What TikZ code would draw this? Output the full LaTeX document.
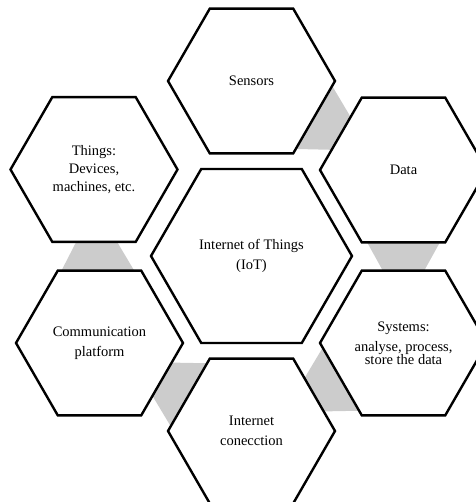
\documentclass[tikz,border=0pt]{standalone}
\usepackage{fontspec}
\setmainfont{Liberation Serif}
\usetikzlibrary{shapes.geometric, calc, backgrounds}

% grey band from one hexagon to the next, wide end at the first one
\newcommand{\hexlink}[2]{%
  \fill[linkgray] ($(#1.center)!55pt!(#2.center)!46pt!90:(#2.center)$)
    -- ($(#1.center)!120pt!(#2.center)!10pt!90:(#2.center)$)
    -- ($(#1.center)!120pt!(#2.center)!10pt!-90:(#2.center)$)
    -- ($(#1.center)!55pt!(#2.center)!46pt!-90:(#2.center)$) -- cycle;}

\begin{document}
\begin{tikzpicture}[x=1pt, y=-1pt,
  hexa/.style={regular polygon, regular polygon sides=6, draw, line width=2.4pt,
    fill=white, inner sep=0pt, minimum size=167pt, align=center,
    font=\fontsize{14.5}{20}\selectfont},
  linkgray/.style={fill=black!20}]
\useasboundingbox (0,0) rectangle (475,502);

% centre
\node[hexa, minimum size=201pt] (iot) at (251.5,256) {Internet of Things\\(IoT)};

% ring around it
\node[hexa] (sens) at (251.5,81) {Sensors};
\node[hexa] (data) at (403.5,170) {Data};
\node[hexa] (sys) at (403.5,343) {Systems:\\analyse, process,\\[-6.7pt]store the data};
\node[hexa] (inet) at (251.5,431) {Internet\\conecction};
\node[hexa] (comm) at (99.5,343) {Communication\\platform};
\node[hexa] (thing) at (94,169.5) {Things:\\[-2pt]Devices,\\[-2pt]machines, etc.};

% grey bands behind the ring
\begin{scope}[on background layer]
  \hexlink{sens}{data}
  \hexlink{data}{sys}
  \hexlink{sys}{inet}
  \hexlink{inet}{comm}
  \hexlink{comm}{thing}
\end{scope}
\end{tikzpicture}
\end{document}
